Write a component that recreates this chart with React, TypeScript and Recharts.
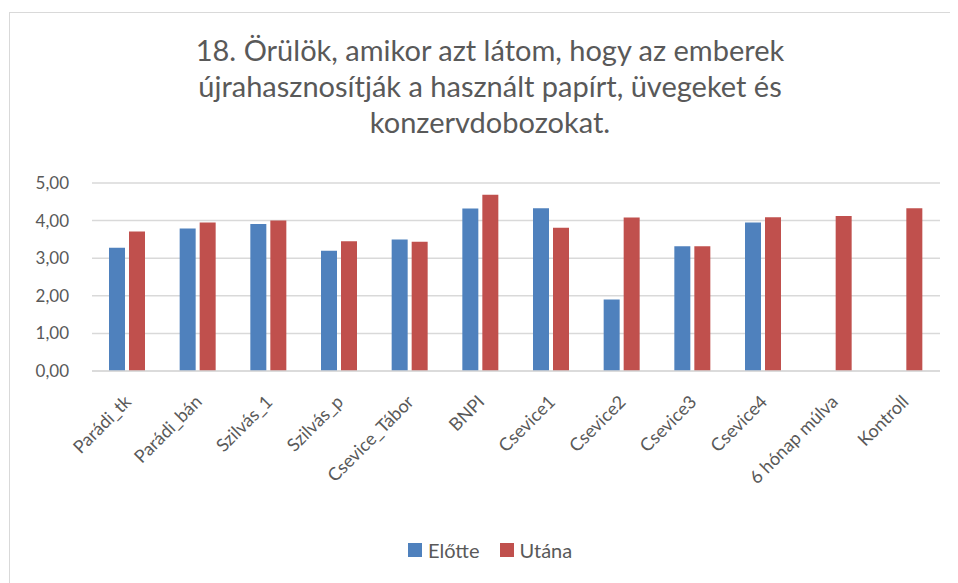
import { Bar, BarChart, CartesianGrid, XAxis, YAxis } from "recharts";

const categories = [
  "Parádi_tk",
  "Parádi_bán",
  "Szilvás_1",
  "Szilvás_p",
  "Csevice_Tábor",
  "BNPI",
  "Csevice1",
  "Csevice2",
  "Csevice3",
  "Csevice4",
  "6 hónap múlva",
  "Kontroll",
];
const elotte = [3.28, 3.79, 3.91, 3.2, 3.5, 4.32, 4.33, 1.9, 3.32, 3.95, null, null];
const utana = [3.71, 3.95, 4.0, 3.45, 3.44, 4.69, 3.81, 4.08, 3.32, 4.09, 4.12, 4.33];
const yTicks = [0, 1, 2, 3, 4, 5];

const data = categories.map((name, i) => ({
  name,
  elotte: elotte[i],
  utana: utana[i],
}));

const FONT = "Lato, 'Open Sans', sans-serif";
const TEXT = "#595959";

const XTick = ({ x, y, payload }: any) => (
  <text
    x={x + 5}
    y={y + 24}
    transform={`rotate(-45, ${x + 5}, ${y + 24})`}
    textAnchor="end"
    fill={TEXT}
    fontSize={18}
    fontFamily={FONT}
  >
    {payload.value}
  </text>
);

const legendItems = [
  ["Előtte", "#4f81bd"],
  ["Utána", "#c0504d"],
];

export default function App() {
  return (
    <div style={{ position: "relative", width: 950, height: 575, overflow: "hidden" }}>
      <div
        style={{
          position: "absolute",
          left: 1,
          top: 4,
          width: 980,
          height: 600,
          border: "1.5px solid #d9d9d9",
        }}
      />
      <div
        style={{
          position: "absolute",
          left: 0,
          top: 24,
          width: 964,
          textAlign: "center",
          fontFamily: FONT,
          fontSize: 29,
          lineHeight: "36px",
          color: TEXT,
        }}
      >
        18. Örülök, amikor azt látom, hogy az emberek
        <br />
        újrahasznosítják a használt papírt, üvegeket és
        <br />
        konzervdobozokat.
      </div>
      <div style={{ position: "absolute", left: 0, top: 0 }}>
        <BarChart
          width={950}
          height={575}
          data={data}
          margin={{ top: 175, right: 18, bottom: 62, left: 0 }}
          barSize={16}
          barGap={4}
        >
          <CartesianGrid vertical={false} stroke="#d9d9d9" strokeWidth={1.5} />
          <XAxis
            dataKey="name"
            interval={0}
            height={150}
            tickLine={false}
            axisLine={{ stroke: "#d9d9d9", strokeWidth: 1.5 }}
            tick={<XTick />}
          />
          <YAxis
            width={84}
            domain={[0, 5]}
            ticks={yTicks}
            tickLine={false}
            axisLine={false}
            tickFormatter={(v: number) => v.toFixed(2).replace(".", ",")}
            tick={{ fill: TEXT, fontSize: 17, fontFamily: FONT, dx: -15 }}
          />
          <Bar dataKey="elotte" name="Előtte" fill="#4f81bd" isAnimationActive={false} />
          <Bar dataKey="utana" name="Utána" fill="#c0504d" isAnimationActive={false} />
        </BarChart>
      </div>
      <div
        style={{
          position: "absolute",
          left: 400,
          top: 530,
          display: "flex",
          gap: 20,
          fontFamily: FONT,
          fontSize: 20,
          lineHeight: "24px",
          color: TEXT,
        }}
      >
        {legendItems.map(([label, color]) => (
          <span key={label} style={{ display: "flex", alignItems: "center" }}>
            <span
              style={{
                width: 14,
                height: 14,
                background: color,
                display: "inline-block",
                marginRight: 6,
              }}
            />
            {label}
          </span>
        ))}
      </div>
    </div>
  );
}
